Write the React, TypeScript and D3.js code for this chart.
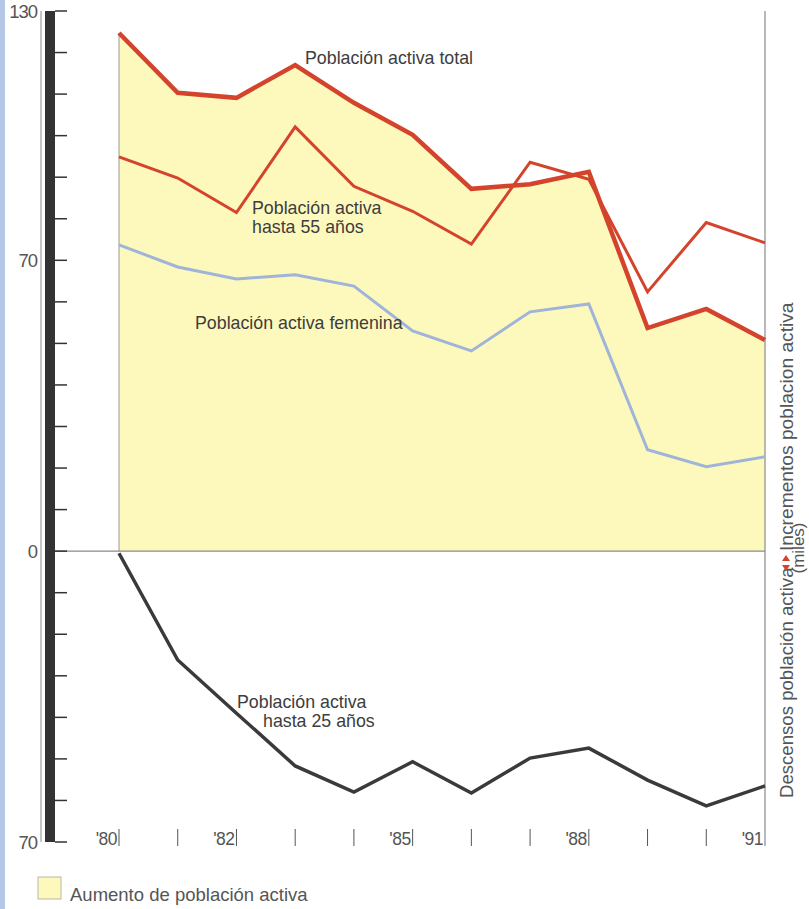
import React from "react";
import * as d3 from "d3";

const years = [1980, 1981, 1982, 1983, 1984, 1985, 1986, 1987, 1988, 1989, 1990, 1991];
const total = [124.7, 110.3, 109.1, 117.0, 107.9, 100.2, 87.2, 88.3, 91.3, 53.7, 58.3, 50.8];
const hasta55 = [94.9, 89.8, 81.5, 102.1, 87.8, 81.8, 73.9, 93.6, 89.5, 62.4, 79.1, 74.2];
const femenina = [73.7, 68.4, 65.5, 66.5, 63.8, 53.0, 48.2, 57.6, 59.5, 24.4, 20.3, 22.7];
const hasta25 = [-0.5, -26.2, -39.0, -51.7, -58.0, -50.7, -58.2, -49.8, -47.4, -55.1, -61.3, -56.5];
const yTickValues = d3.range(-70, 131, 10);
const yLabels = [
  { v: 130, t: "130" },
  { v: 70, t: "70" },
  { v: 0, t: "0" },
  { v: -70, t: "70" },
];
const xLabels: Record<number, string> = { 1980: "'80", 1982: "'82", 1985: "'85", 1988: "'88", 1991: "'91" };

const FONT = "'Liberation Sans', Arial, sans-serif";
const RED = "#d4432b";
const TEXT = "#3d3d3d";

export default function App() {
  const x = d3.scaleLinear().domain([1980, 1991]).range([119, 765]);
  const y = d3.scaleLinear().domain([-70, 130]).range([842, 11]);

  const line = d3
    .line<number>()
    .x((_, i) => x(years[i]))
    .y((d) => y(d));
  const area = d3
    .area<number>()
    .x((_, i) => x(years[i]))
    .y0(() => y(0))
    .y1((d) => y(d));

  return (
    <svg
      width={809}
      height={909}
      style={{ position: "absolute", left: 0, top: 0, display: "block" }}
      fontFamily={FONT}
    >
      <rect x={0} y={0} width={809} height={909} fill="#ffffff" />
      <rect x={0} y={0} width={5} height={909} fill="#b4c7e6" />

      {/* yellow area */}
      <path d={area(total) || ""} fill="#fdf9bd" />
      <line x1={x(1980)} x2={x(1980)} y1={y(total[0])} y2={y(0)} stroke="#9a9a8a" strokeWidth={1} />

      {/* zero line */}
      <line x1={55} x2={x(1991)} y1={y(0)} y2={y(0)} stroke="#8a8a8a" strokeWidth={1.2} />

      {/* right axis line */}
      <line x1={x(1991)} x2={x(1991)} y1={11} y2={846} stroke="#8a8a8a" strokeWidth={1.2} />

      {/* left axis */}
      <line x1={41} x2={41} y1={11} y2={842} stroke="#8d8d8d" strokeWidth={1} />
      <rect x={45} y={11} width={10} height={y(-70) - 11} fill="#333333" />
      {yTickValues.map((v) => (
        <line key={v} x1={55} x2={67} y1={y(v)} y2={y(v)} stroke="#333" strokeWidth={1.5} />
      ))}
      {yLabels.map((d, i) => (
        <text
          key={i}
          x={37}
          y={y(d.v)}
          dy={7}
          textAnchor="end"
          fontSize={18.5}
          fill="#555"
          letterSpacing={-1}
        >
          {d.t}
        </text>
      ))}

      {/* x ticks and labels */}
      {years.map((yr) => (
        <g key={yr}>
          {yr !== 1991 && (
            <line x1={x(yr)} x2={x(yr)} y1={829} y2={846} stroke="#555" strokeWidth={1} />
          )}
          {xLabels[yr] && (
            <text x={x(yr) - 2} y={845} textAnchor="end" fontSize={17.5} fill="#555" letterSpacing={-0.5}>
              {xLabels[yr]}
            </text>
          )}
        </g>
      ))}

      {/* lines */}
      <path d={line(femenina) || ""} fill="none" stroke="#9fb4d8" strokeWidth={3} strokeLinejoin="miter" />
      <path d={line(hasta55) || ""} fill="none" stroke={RED} strokeWidth={3} strokeLinejoin="miter" />
      <path d={line(total) || ""} fill="none" stroke={RED} strokeWidth={4.5} strokeLinejoin="miter" />
      <path d={line(hasta25) || ""} fill="none" stroke="#3a3a3a" strokeWidth={3.5} strokeLinejoin="miter" />

      {/* series labels */}
      <g fontSize={17.8} fill={TEXT}>
        <text x={305} y={64}>Población activa total</text>
        <text x={252} y={214}>Población activa</text>
        <text x={252} y={233}>hasta 55 años</text>
        <text x={195} y={329}>Población activa femenina</text>
        <text x={237} y={708}>Población activa</text>
        <text x={263} y={727}>hasta  25 años</text>
      </g>

      {/* right rotated label */}
      <text transform="translate(793, 798) rotate(-90)" fontSize={18.6} fill="#555">
        Descensos población activa
      </text>
      <text transform="translate(793, 551) rotate(-90)" fontSize={19.2} fill="#555">
        Incrementos poblacion activa
      </text>
      <path d="M782,561 L790,561 L786,555 Z" fill={RED} />
      <path d="M782,565 L790,565 L786,571 Z" fill={RED} />
      <text
        transform="translate(804, 548) rotate(-90)"
        textAnchor="middle"
        fontSize={17}
        fill="#555"
      >
        (miles)
      </text>

      {/* legend */}
      <rect x={38} y={877} width={23} height={22} fill="#fdf9bd" stroke="#b8b8a8" strokeWidth={1} />
      <text x={70} y={901} fontSize={18.5} fill="#555">Aumento de población activa</text>
    </svg>
  );
}
